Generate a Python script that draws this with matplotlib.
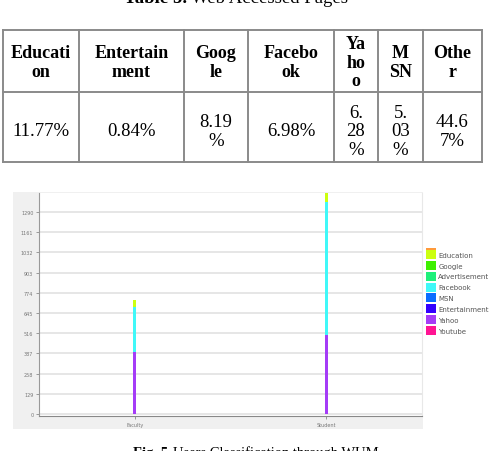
import matplotlib.pyplot as plt
from matplotlib.patches import Rectangle

# table 5 data
table_headers = ["Educati\non", "Entertain\nment", "Goog\nle", "Facebo\nok",
                 "Ya\nho\no", "M\nSN", "Othe\nr"]
table_values = ["11.77%", "0.84%", "8.19\n%", "6.98%", "6.\n28\n%", "5.\n03\n%", "44.6\n7%"]

# fig 5 data (stacked, bottom to top)
users = ["Faculty", "Student"]
series_names = ["Youtube", "Yahoo", "Entertainment", "MSN", "Facebook",
                "Advertisement", "Google", "Education"]
series_values = [
    [0, 0],        # Youtube
    [396, 504],    # Yahoo
    [0, 0],        # Entertainment
    [0, 0],        # MSN
    [287, 850],    # Facebook
    [0, 0],        # Advertisement
    [0, 0],        # Google
    [45, 55],      # Education
]
series_colors = ["#ff1493", "#a53cf7", "#3300ff", "#0a6cff", "#40f8f8",
                 "#1ef07a", "#3ef000", "#ccff10"]
y_ticks = [0, 129, 258, 387, 516, 645, 774, 903, 1032, 1161, 1290]

W, H = 491, 452
fig = plt.figure(figsize=(W / 100, H / 100), dpi=100)
fig.patch.set_facecolor("white")

# canvas in pixel coords for table, captions, panel
cv = fig.add_axes([0, 0, 1, 1], zorder=0)
cv.set_xlim(0, W)
cv.set_ylim(H, 0)
cv.axis("off")

serif = "Liberation Serif"
cv.text(187, 3, "Table 5.", fontsize=13.5, fontweight="bold", family=serif,
        ha="right", va="baseline")
cv.text(191, 3, "Web Accessed Pages", fontsize=13.5, family=serif,
        ha="left", va="baseline")

col_edges = [3, 79, 184, 248, 334, 378, 423, 482]
row_edges = [31, 93, 163]
line_c = "#8a8a8a"
for x in col_edges:
    cv.plot([x, x], [row_edges[0], row_edges[-1]], color=line_c, lw=1.4)
for y in row_edges:
    cv.plot([col_edges[0], col_edges[-1]], [y, y], color=line_c, lw=1.4)

for i in range(len(table_headers)):
    cx = (col_edges[i] + col_edges[i + 1]) / 2
    cv.text(cx, 63, table_headers[i], fontsize=13, fontweight="bold", family=serif,
            ha="center", va="center", linespacing=1.12)
    cv.text(cx, 132, table_values[i], fontsize=13.5, family=serif,
            ha="center", va="center", linespacing=1.1)

# grey panel behind the chart
cv.add_patch(Rectangle((13, 193), 410, 237, facecolor="#f0f0f0", edgecolor="none"))
cv.add_patch(Rectangle((426, 249), 10, 1.5, facecolor="#ff9a3a", edgecolor="none"))

cap_x = 133
cv.text(cap_x, 457, "Fig. 5.", fontsize=10.5, fontweight="bold", family=serif,
        ha="left", va="baseline")
cv.text(cap_x + 40, 457, "Users Classification through WUM", fontsize=10.5, family=serif,
        ha="left", va="baseline")

# chart
ax = fig.add_axes([39 / W, (H - 417) / H, 383 / W, 223 / H], zorder=1)
ax.set_facecolor("white")
x = [0, 1]
bottom = [0, 0]
handles = []
for name, vals, col in zip(series_names, series_values, series_colors):
    b = ax.bar(x, vals, width=0.018, bottom=bottom, color=col, label=name, zorder=3)
    handles.append(b)
    bottom = [bottom[k] + vals[k] for k in range(2)]

ax.set_xlim(-0.5, 1.5)
ax.set_ylim(-13, 1411)
ax.set_yticks(y_ticks)
ax.set_yticklabels([str(v) for v in y_ticks], fontsize=3.5, color="#666666")
ax.set_xticks(x)
ax.set_xticklabels(users, fontsize=3.5, color="#555555")
ax.tick_params(length=2, width=0.5, colors="#777777", pad=2)
ax.grid(axis="y", color="#e4e4e4", lw=1.3, zorder=0)
ax.spines["top"].set_visible(False)
ax.spines["right"].set_color("#e8e8e8")
ax.spines["left"].set_color("#999999")
ax.spines["bottom"].set_color("#888888")
for s in ax.spines.values():
    s.set_linewidth(0.8)

leg = ax.legend(handles[::-1], series_names[::-1], loc="upper left",
                bbox_to_anchor=(426 / W, 1 - 251 / H), bbox_transform=fig.transFigure,
                frameon=False, fontsize=5, handlelength=1.45, handleheight=1.6,
                labelspacing=0.28, handletextpad=0.3, borderpad=0, borderaxespad=0)
for t in leg.get_texts():
    t.set_color("#555555")

fig.savefig("out.png", dpi=100)
